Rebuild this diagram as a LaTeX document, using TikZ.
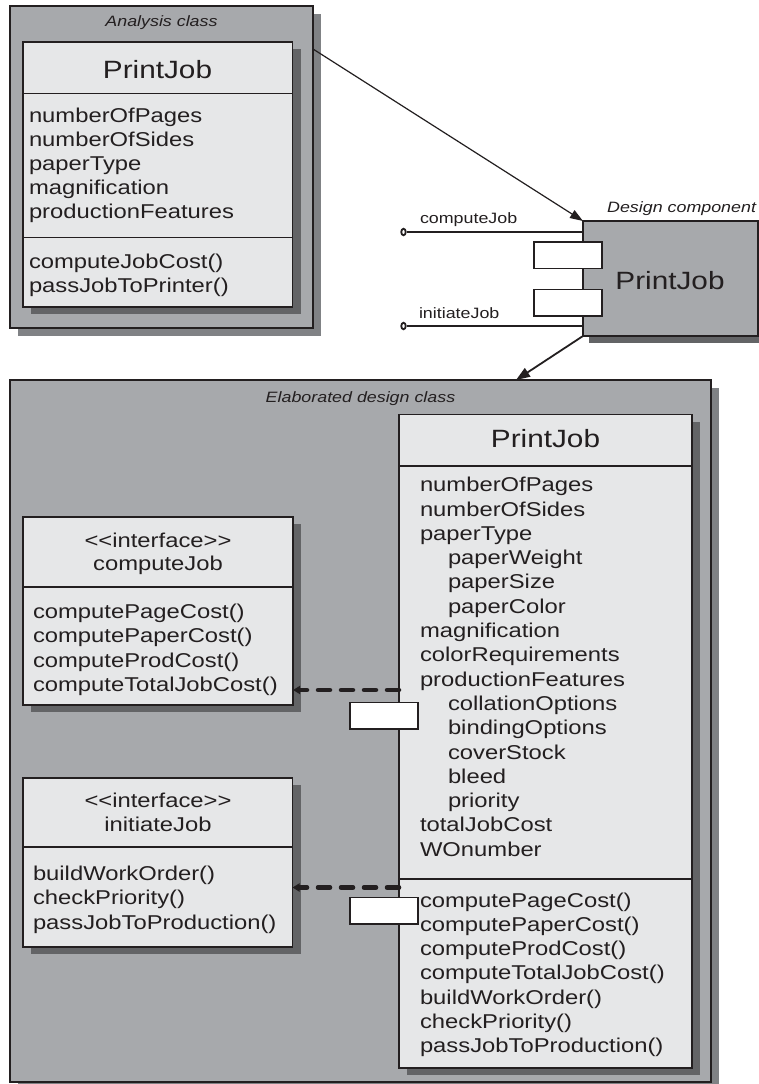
\documentclass[tikz,border=0pt]{standalone}
\usepackage{fontspec}
\setmainfont{Liberation Sans}[FakeStretch=1.19]
\usetikzlibrary{arrows.meta,shadows,shapes.geometric}
\definecolor{ink}{HTML}{231F20}
\definecolor{pane}{HTML}{A7A9AC}
\definecolor{cls}{HTML}{E6E7E8}
\definecolor{shadeA}{HTML}{808285}
\definecolor{shadeB}{HTML}{636466}
\begin{document}
\begin{tikzpicture}[x=1pt,y=-1pt,
  box/.style={draw=ink, line width=1.5pt, inner sep=0pt, outer sep=0pt, anchor=north west},
  container/.style={box, fill=pane, drop shadow={shadow xshift=8pt, shadow yshift=-8pt, fill=shadeA, opacity=1}},
  classbox/.style={box, fill=cls, drop shadow={shadow xshift=8pt, shadow yshift=-7pt, fill=shadeB, opacity=1}},
  compbox/.style={box, line width=2pt, fill=pane, drop shadow={shadow xshift=6pt, shadow yshift=-7pt, fill=shadeB, opacity=1}},
  portbox/.style={box, line width=1.4pt, fill=white, minimum width=68pt, minimum height=26.5pt},
  txt/.style={inner sep=0pt, outer sep=0pt, text=ink, font=\fontsize{20}{24}\selectfont},
  ttl/.style={inner sep=0pt, outer sep=0pt, text=ink, font=\fontsize{25}{30}\selectfont},
  lbl/.style={inner sep=0pt, outer sep=0pt, text=ink, font=\fontsize{15}{18}\selectfont\itshape},
  ilbl/.style={inner sep=0pt, outer sep=0pt, text=ink, font=\fontsize{15}{18}\selectfont},
  divider/.style={draw=ink, line width=1.5pt},
  lolli/.style={ellipse, draw=ink, line width=1.8pt, fill=white, minimum width=4.5pt, minimum height=6.5pt, inner sep=0pt},
  wire/.style={draw=ink, line width=1.4pt},
  flow/.style={draw=ink, line width=1.2pt, -{Triangle[length=13pt,width=9pt]}},
  flowb/.style={draw=ink, line width=1.8pt, -{Triangle[length=14pt,width=10pt]}},
  realize/.style={draw=ink, line width=4.5pt, dash pattern=on 12pt off 11pt, line cap=round, -{Triangle[length=7pt,width=8pt]}}
]
\useasboundingbox (0,0) rectangle (759,1084);
\fill[white] (0,0) rectangle (759,1084);

% ---------------- Analysis class ----------------
\node[container, minimum width=303pt, minimum height=322pt] (ana) at (10,6) {};
\node[lbl, anchor=base] (anaL) at (161.5,27) {Analysis class};
\node[classbox, minimum width=269.5pt, minimum height=265pt] (apj) at (23,42) {};
\node[ttl, anchor=base] (apjT) at (157.5,78) {PrintJob};
\draw[divider] (apj.west |- 0,93.3) -- (apj.east |- 0,93.3);
\draw[divider] (apj.west |- 0,237.3) -- (apj.east |- 0,237.3);
\foreach \t [count=\i] in {numberOfPages,numberOfSides,paperType,magnification,productionFeatures}
  \node[txt, anchor=base west] (aa\i) at (29,{122+24*(\i-1)}) {\t};
\foreach \t [count=\i] in {computeJobCost(),passJobToPrinter()}
  \node[txt, anchor=base west] (am\i) at (29,{268+24*(\i-1)}) {\t};

% ---------------- Design component ----------------
\node[compbox, minimum width=175pt, minimum height=115pt] (comp) at (583,221) {};
\node[lbl, anchor=base east] (compL) at (756,212) {Design component};
\node[ttl, anchor=base] (compT) at (670,289) {PrintJob};
\node[portbox] (cp1) at (534,242) {};
\node[portbox] (cp2) at (534,289.5) {};
\node[lolli] (lc1) at (403.5,232) {};
\node[lolli] (lc2) at (403.5,326) {};
\draw[wire] (lc1.east) -- (lc1 -| comp.west);
\draw[wire] (lc2.east) -- (lc2 -| comp.west);
\node[ilbl, anchor=base west] (lcl1) at (420,223) {computeJob};
\node[ilbl, anchor=base west] (lcl2) at (419,318) {initiateJob};

\draw[flow] (ana.east |- 0,49) -- (comp.north west);

% ---------------- Elaborated design class ----------------
\node[container, minimum width=701pt, minimum height=702pt] (elab) at (10,380) {};
\draw[flowb] (comp.south west) -- (516,0 |- elab.north);
\node[lbl, anchor=base] (elabL) at (360.5,402) {Elaborated design class};

\node[classbox, minimum width=293pt, minimum height=653.5pt] (bpj) at (399,414.5) {};
\node[ttl, anchor=base] (bpjT) at (545.5,447) {PrintJob};
\draw[divider] (bpj.west |- 0,466) -- (bpj.east |- 0,466);
\draw[divider] (bpj.west |- 0,879) -- (bpj.east |- 0,879);
\foreach \dx/\t [count=\i] in {0/numberOfPages,0/numberOfSides,0/paperType,28/paperWeight,28/paperSize,28/paperColor,0/magnification,0/colorRequirements,0/productionFeatures,28/collationOptions,28/bindingOptions,28/coverStock,28/bleed,28/priority,0/totalJobCost,0/WOnumber}
  \node[txt, anchor=base west] (ba\i) at ({420+\dx},{491.7+24.3*(\i-1)}) {\t};
\foreach \t [count=\i] in {computePageCost(),computePaperCost(),computeProdCost(),computeTotalJobCost(),buildWorkOrder(),checkPriority(),passJobToProduction()}
  \node[txt, anchor=base west] (bm\i) at (420,{907+24.3*(\i-1)}) {\t};

% interface computeJob
\node[classbox, minimum width=270pt, minimum height=188pt] (if1) at (23,517) {};
\node[txt, anchor=base] (if1s) at (158,547) {<\kern0pt<interface>\kern0pt>};
\node[txt, anchor=base] (if1n) at (158,570.5) {computeJob};
\draw[divider] (if1.west |- 0,587) -- (if1.east |- 0,587);
\foreach \t [count=\i] in {computePageCost(),computePaperCost(),computeProdCost(),computeTotalJobCost()}
  \node[txt, anchor=base west] (if1m\i) at (33,{618+24.5*(\i-1)}) {\t};

% interface initiateJob
\node[classbox, minimum width=269.5pt, minimum height=169pt] (if2) at (23,778) {};
\node[txt, anchor=base] (if2s) at (158,807) {<\kern0pt<interface>\kern0pt>};
\node[txt, anchor=base] (if2n) at (158,831) {initiateJob};
\draw[divider] (if2.west |- 0,847) -- (if2.east |- 0,847);
\foreach \t [count=\i] in {buildWorkOrder(),checkPriority(),passJobToProduction()}
  \node[txt, anchor=base west] (if2m\i) at (33,{880+24.5*(\i-1)}) {\t};

% realization arrows and ports
\draw[realize] (bpj.west |- 0,690) -- (if1.east |- 0,690);
\draw[realize] (bpj.west |- 0,887.5) -- (if2.east |- 0,887.5);
\node[portbox] (bp1) at (350,702.5) {};
\node[portbox] (bp2) at (350,897.5) {};
\end{tikzpicture}
\end{document}
